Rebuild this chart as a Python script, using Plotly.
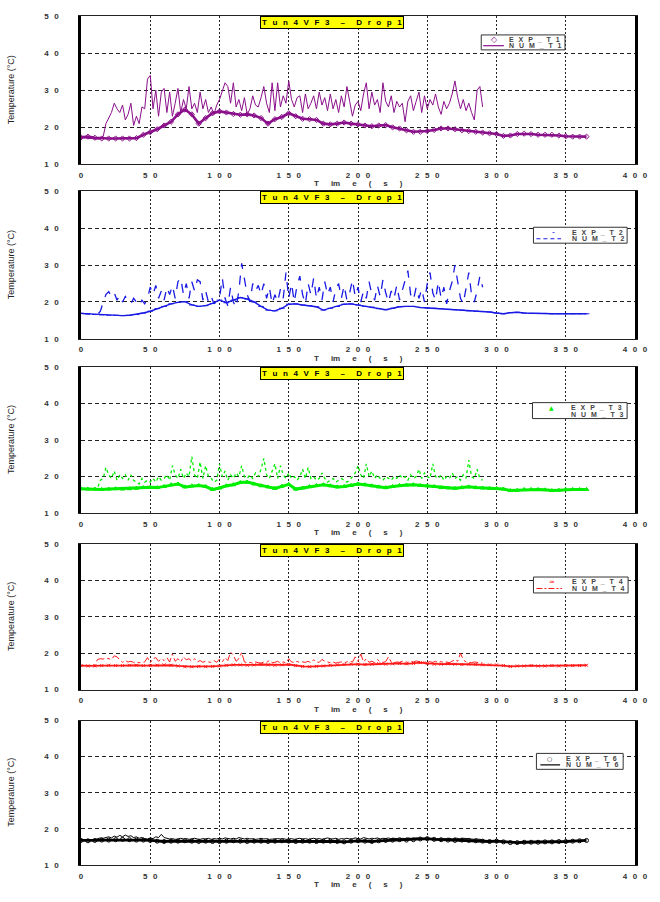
import plotly.graph_objects as go

# ---------------- data ----------------
time_num = list(range(0, 292, 2))   # 0..290 s, step 2
time_exp = list(range(0, 370, 5))   # 0..365 s, step 5

num_t1 = [17.0, 17.2, 17.1, 17.0, 16.9, 16.9, 16.8, 16.9, 17.5, 21.0,
          22.5, 24.0, 26.5, 25.0, 24.0, 26.0, 22.0, 23.5, 26.5, 20.5,
          23.0, 21.0, 25.5, 25.0, 33.0, 34.0, 25.0, 30.0, 23.0, 29.5,
          30.5, 24.0, 29.5, 23.0, 26.5, 30.5, 24.0, 27.5, 25.0, 31.0,
          25.0, 26.5, 24.0, 29.5, 25.0, 27.5, 24.0, 25.5, 23.5, 26.0,
          27.5, 30.0, 32.0, 31.0, 26.5, 32.0, 25.5, 27.5, 24.5, 28.0,
          23.5, 25.0, 28.5, 26.0, 25.5, 28.0, 31.0, 26.5, 24.0, 32.0,
          24.5, 32.0, 25.5, 28.5, 26.5, 32.5, 27.5, 25.5, 28.0, 28.5,
          24.0, 29.0, 25.0, 26.5, 28.5, 25.0, 29.5, 26.0, 28.0, 24.5,
          29.0, 25.0, 27.5, 24.0, 28.5, 25.5, 31.0, 27.0, 23.0, 26.0,
          27.0, 24.5, 29.0, 32.0, 25.0, 29.5, 26.0, 27.5, 24.0, 32.0,
          27.0, 25.5, 28.5, 24.0, 27.0, 25.5, 26.5, 21.5, 27.0, 28.5,
          24.5, 27.0, 29.5, 24.0, 28.5, 25.0, 27.5, 26.0, 29.0, 25.5,
          23.5, 27.0, 25.0, 26.5, 29.0, 32.5, 28.0, 25.0, 27.5, 24.5,
          26.5, 24.0, 22.0, 30.0, 31.0, 25.5]
exp_t1 = [17.3, 17.5, 17.2, 17.0, 17.0, 17.0, 17.0, 17.0, 17.1, 18.0,
          18.7, 19.5, 20.5, 21.5, 23.5, 24.8, 23.5, 21.0, 22.5, 23.8,
          24.3, 24.0, 23.6, 23.4, 23.5, 23.2, 22.5, 21.0, 22.2, 22.8,
          23.8, 23.0, 22.3, 22.2, 22.0, 21.0, 20.8, 21.0, 21.3, 21.0,
          20.8, 20.5, 20.3, 20.5, 20.6, 20.0, 19.7, 19.2, 18.8, 18.8,
          19.0, 19.3, 19.7, 19.7, 19.5, 19.2, 19.0, 18.8, 18.6, 18.4,
          18.2, 17.7, 17.8, 18.2, 18.3, 18.2, 18.0, 18.0, 18.0, 17.8,
          17.6, 17.5, 17.5, 17.5]

num_t2 = [16.9, 16.8, 16.8, 16.7, 16.7, 16.6, 16.6, 17.5, 20.0, 22.0,
          22.8, 21.5, 22.5, 20.5, 21.8, 20.0, 21.5, 20.5, 19.5, 21.0,
          20.0, 19.0, 20.5, 19.5, 21.0, 24.0, 22.0, 24.5, 21.0, 23.0,
          20.5, 24.0, 22.0, 24.5, 21.0, 25.5, 26.5, 22.0, 25.0, 21.0,
          25.5, 23.0, 26.0, 25.5, 20.5, 23.0, 20.0, 21.5, 19.5, 20.5,
          21.0, 26.5, 21.0, 19.0, 24.0, 20.0, 18.5, 23.0, 30.5, 26.0,
          22.0, 20.0, 25.0, 23.0, 24.5, 22.0, 25.0, 21.0, 24.0, 19.5,
          22.0, 20.0, 23.5, 21.0, 28.0, 21.0, 25.0, 20.0, 24.5, 27.0,
          22.0, 19.5, 25.0, 22.0, 26.5, 21.0, 24.0, 20.5, 25.5, 22.0,
          24.0, 20.0, 23.5, 25.0, 21.0, 24.5, 20.5, 22.5, 26.0, 21.5,
          24.0, 20.0, 23.0, 21.0, 25.5, 22.0, 20.5, 24.5, 21.5, 26.0,
          22.5, 20.0, 23.0, 21.0, 24.5, 20.5, 23.0, 26.0, 28.5, 22.0,
          20.5, 24.0, 21.0, 23.5, 20.0, 25.0, 28.0, 22.5, 20.5, 25.5,
          21.0, 24.0, 19.5, 23.0, 25.5, 30.0, 26.0, 21.0, 19.5, 24.0,
          28.0, 22.0, 20.0, 23.0, 27.0, 24.0]
exp_t2 = [16.9, 16.8, 16.6, 16.5, 16.4, 16.4, 16.3, 16.4, 16.6, 17.0,
          17.5, 18.2, 18.8, 19.5, 19.9, 20.1, 19.2, 18.8, 19.0, 19.6,
          20.5, 19.8, 20.5, 21.2, 20.8, 20.0, 18.8, 17.8, 17.6, 18.3,
          19.4, 19.5, 19.2, 19.0, 18.7, 17.8, 18.3, 18.8, 19.4, 19.5,
          19.2, 18.8, 18.6, 18.2, 17.9, 18.3, 18.7, 18.8, 18.8, 18.5,
          18.4, 18.3, 18.2, 18.0, 17.9, 17.8, 17.6, 17.5, 17.4, 17.3,
          17.0, 16.8, 17.1, 17.2, 17.0, 16.9, 16.9, 16.9, 16.8, 16.8,
          16.8, 16.8, 16.8, 16.8]

num_t3 = [16.6, 16.6, 16.5, 16.5, 16.6, 16.7, 17.0, 19.0, 19.5, 22.5,
          20.5, 19.5, 21.5, 19.0, 20.5, 19.5, 20.5, 19.0, 20.5, 19.0,
          18.5, 18.0, 19.5, 18.5, 19.0, 18.5, 19.5, 18.5, 20.0, 19.0,
          19.5, 20.5, 19.0, 23.0, 20.5, 19.5, 22.0, 19.5, 21.0, 20.0,
          25.5, 20.5, 19.5, 24.0, 19.5, 23.0, 20.0, 19.5, 18.5, 19.0,
          23.5, 20.0, 21.5, 19.0, 20.5, 19.5, 21.0, 20.0, 23.0, 20.0,
          19.5, 20.5, 19.5, 21.0, 20.0, 22.0, 25.0, 20.5, 19.5, 21.5,
          23.5, 19.5, 23.0, 20.5, 19.5, 21.0, 19.5, 20.0, 19.0, 20.0,
          22.0, 19.5, 22.5, 19.5, 20.0, 19.0, 19.5, 21.0, 19.5, 18.5,
          19.0, 19.5, 18.5, 19.0, 19.5, 19.0, 18.5, 19.0, 20.0, 21.0,
          23.0, 20.5, 19.5, 23.5, 20.0, 21.5, 19.5, 20.5, 19.5, 19.0,
          20.0, 19.5, 19.0, 20.0, 19.5, 20.5, 19.5, 20.0, 19.0, 20.5,
          19.5, 20.0, 22.0, 19.5, 21.0, 20.0, 19.5, 23.5, 20.0, 19.5,
          20.5, 19.0, 20.0, 19.5, 21.0, 19.5, 20.0, 19.0, 20.5, 19.5,
          24.5, 20.0, 19.5, 22.0, 19.5, 19.0]
exp_t3 = [16.7, 16.6, 16.6, 16.5, 16.6, 16.7, 16.6, 16.7, 16.8, 17.0,
          17.1, 17.0, 17.3, 17.8, 18.0, 17.2, 17.5, 17.6, 17.3, 16.5,
          16.9, 17.5, 17.8, 18.4, 18.5, 18.0, 17.5, 17.2, 16.8, 17.4,
          17.9, 16.6, 16.9, 17.3, 17.6, 17.8, 17.5, 17.2, 17.3, 17.6,
          18.0, 17.8, 17.5, 17.2, 17.0, 17.3, 17.6, 17.7, 17.8, 17.6,
          17.5, 17.3, 17.0, 16.9, 16.8, 17.0, 17.2, 17.0, 16.9, 16.8,
          16.8, 16.6, 16.2, 16.3, 16.5, 16.5, 16.5, 16.4, 16.2, 16.3,
          16.5, 16.5, 16.5, 16.5]

num_t4 = [16.6, 16.6, 16.5, 16.6, 16.6, 16.8, 18.3, 18.5, 18.4, 18.7,
          18.5, 18.3, 19.3, 19.0, 18.2, 17.5, 18.0, 17.6, 17.8, 17.5,
          17.6, 17.4, 17.5, 17.6, 18.8, 17.4, 18.5, 18.8, 17.8, 18.5,
          18.0, 18.8, 17.6, 19.8, 17.8, 18.5, 17.6, 19.0, 18.2, 18.5,
          17.8, 18.5, 17.6, 18.0, 17.5, 17.8, 17.6, 17.5, 18.0, 17.5,
          18.4, 17.6, 18.8, 18.0, 20.3, 19.5, 17.8, 18.5, 20.2, 17.6,
          17.4, 17.5, 17.3, 17.6, 17.4, 17.3, 17.6, 17.5, 18.0, 17.4,
          17.5, 17.8, 17.3, 17.6, 17.4, 18.5, 17.6, 17.5, 17.8, 17.4,
          17.6, 17.5, 17.8, 17.4, 18.2, 17.6, 17.5, 18.3, 17.8, 17.5,
          17.4, 17.6, 17.3, 17.5, 17.6, 17.4, 17.5, 17.8, 17.6, 19.0,
          17.8, 19.8, 17.6, 18.5, 17.5, 17.8, 17.4, 18.3, 17.6, 17.5,
          17.7, 19.0, 17.6, 17.4, 17.6, 17.5, 17.8, 17.6, 17.5, 17.8,
          17.6, 17.9, 17.7, 17.8, 17.5, 17.8, 17.6, 17.5, 17.8, 17.4,
          17.7, 17.5, 17.6, 17.4, 17.8, 18.3, 17.8, 20.0, 18.2, 17.6,
          17.5, 17.4, 17.6, 17.5, 17.4, 17.3]
exp_t4 = [16.6, 16.5, 16.5, 16.6, 16.7, 16.6, 16.6, 16.7, 16.7, 16.6,
          16.6, 16.7, 16.8, 16.7, 16.5, 16.3, 16.3, 16.4, 16.3, 16.4,
          16.5, 16.7, 16.8, 16.8, 16.7, 16.8, 16.9, 16.8, 16.7, 16.8,
          16.9, 16.6, 16.4, 16.3, 16.4, 16.5, 16.7, 16.8, 16.9, 17.0,
          17.0, 16.9, 17.0, 17.1, 17.0, 17.1, 17.2, 17.1, 17.2, 17.4,
          17.2, 17.0, 17.0, 17.1, 17.0, 16.9, 17.0, 16.9, 16.8, 16.8,
          16.8, 16.6, 16.4, 16.5, 16.5, 16.6, 16.5, 16.5, 16.6, 16.5,
          16.6, 16.6, 16.6, 16.7]

num_t6 = [16.8, 16.9, 16.8, 16.9, 16.8, 17.0, 17.3, 17.5, 17.4, 17.6,
          17.8, 17.5, 18.0, 17.7, 18.2, 17.8, 18.3, 17.9, 18.1, 17.6,
          17.8, 17.4, 17.6, 17.3, 17.2, 17.5, 17.3, 17.8, 17.6, 18.5,
          17.6, 17.4, 17.2, 17.3, 17.1, 17.2, 17.4, 17.2, 17.3, 17.1,
          17.2, 17.4, 17.2, 17.1, 17.3, 17.2, 17.4, 17.1, 17.3, 17.2,
          17.4, 17.2, 17.5, 17.3, 17.2, 17.4, 17.2, 17.6, 17.3, 17.2,
          17.4, 17.2, 17.3, 17.1, 17.2, 17.4, 17.2, 17.3, 17.1, 17.2,
          17.4, 17.3, 17.2, 17.3, 17.1, 17.2, 17.3, 17.1, 17.2, 17.4,
          17.2, 17.3, 17.1, 17.2, 17.4, 17.2, 17.3, 17.1, 17.2, 17.5,
          17.3, 17.2, 17.4, 17.1, 17.3, 17.2, 17.4, 17.2, 17.3, 17.5,
          17.3, 17.2, 17.6, 17.3, 17.2, 17.4, 17.3, 17.5, 17.2, 17.4,
          17.3, 17.5, 17.2, 17.4, 17.3, 17.2, 17.4, 17.3, 17.5, 17.4,
          17.3, 17.5, 17.4, 17.3, 17.4, 17.3, 17.2, 17.4, 17.2, 17.3,
          17.1, 17.3, 17.2, 17.4, 17.2, 17.5, 17.3, 17.2, 17.4, 17.3,
          17.2, 17.3, 17.1, 17.2, 17.1, 17.0]
exp_t6 = [16.8, 16.7, 16.8, 16.9, 16.9, 17.0, 17.1, 17.0, 16.9, 16.9,
          16.8, 16.6, 16.5, 16.6, 16.6, 16.7, 16.6, 16.5, 16.6, 16.5,
          16.5, 16.6, 16.7, 16.6, 16.5, 16.6, 16.6, 16.5, 16.6, 16.7,
          16.6, 16.5, 16.6, 16.6, 16.5, 16.6, 16.6, 16.5, 16.4, 16.6,
          16.7, 16.6, 16.5, 16.7, 16.8, 16.9, 17.0, 16.9, 17.0, 17.2,
          17.3, 17.1, 17.0, 16.9, 16.8, 16.9, 16.8, 16.7, 16.6, 16.5,
          16.6, 16.4, 16.2, 16.2, 16.3, 16.3, 16.3, 16.4, 16.4, 16.5,
          16.5, 16.6, 16.7, 16.8]

x_ticks = [0, 50, 100, 150, 200, 250, 300, 350, 400]
x_labels = ["0", "5 0", "1 0 0", "1 5 0", "2 0 0", "2 5 0", "3 0 0", "3 5 0", "4 0 0"]
y_ticks = [10, 20, 30, 40, 50]
y_labels = ["1 0", "2 0", "3 0", "4 0", "5 0"]

panel_title = "T u n 4 V F 3  –  D r o p 1"
x_title = "T im e ( s )"
y_title = "Temperature (°C)"

exp_names = ["E X P _ T 1", "E X P _ T 2", "E X P _ T 3", "E X P _ T 4", "E X P _ T 6"]
num_names = ["N U M _ T 1", "N U M _ T 2", "N U M _ T 3", "N U M _ T 4", "N U M _ T 6"]
num_series = [num_t1, num_t2, num_t3, num_t4, num_t6]
exp_series = [exp_t1, exp_t2, exp_t3, exp_t4, exp_t6]

# ---------------- styles ----------------
colors = ["#8a0f8a", "#1a1ae6", "#00ee00", "#ff1a1a", "#000000"]
exp_symbols = ["diamond-open", "line-ew-open", "triangle-up", "x-thin-open", "circle-open"]
exp_line_w = [2.6, 1.4, 3.0, 1.8, 2.8]
exp_marker_size = [4, 4, 4, 3, 4]
num_dash = ["solid", "dash", "dot", "dashdot", "solid"]
num_line_w = [1.0, 1.3, 1.3, 1.0, 1.0]
legend_marker_char = ["◇", "‑", "▲", "≈", "○"]
legend_marker_size = [8, 8, 6, 7, 6]
legend_line_dash = ["solid", "4px,3px", None, "6px,2px,2px,2px", "solid"]

GAP = "\u2002\u2009"          # visual letter spacing of the original
GAP_WIDE = "\u2003\u2002"


def spaced(s, gap=GAP):
    return s.replace(" ", gap)


W, H = 660, 902
L, R, T, B = 81, 643, 13, 865
panels_px = [(13, 162), (189, 337), (365, 512), (543, 689), (720, 865)]
# legend box: x0, x1, y0, y1, marker x, text x, line x0, line x1
legend_px = [
    (487, 572, 32, 47, 500, 513, 489, 510),
    (540, 635, 225, 241, 560, 577, 543, 568),
    (539, 635, 401, 417, 558, 576, 543, 568),
    (540, 636, 576, 592, 559, 577, 543, 569),
    (543, 631, 753, 769, 556, 571, 547, 567),
]


def fy(px):
    return (B - px) / (B - T)


def fx(px):
    return (px - L) / (R - L)


fig = go.Figure()
FONT = "Liberation Sans, Arial"
tick_font = dict(family=FONT, size=8, color="#333333", weight="bold")

for i in range(5):
    k = "" if i == 0 else str(i + 1)
    xa, ya = "x" + k, "y" + k
    c = colors[i]
    # EXP (dense markers)
    fig.add_trace(go.Scatter(
        x=time_exp, y=exp_series[i], xaxis=xa, yaxis=ya, mode="lines+markers",
        line=dict(color=c, width=exp_line_w[i]),
        marker=dict(symbol=exp_symbols[i], size=exp_marker_size[i], color=c,
                    line=dict(color=c, width=1)),
        showlegend=False, hoverinfo="skip"))
    # NUM (line)
    fig.add_trace(go.Scatter(
        x=time_num, y=num_series[i], xaxis=xa, yaxis=ya, mode="lines",
        line=dict(color=c, width=num_line_w[i], dash=num_dash[i]),
        showlegend=False, hoverinfo="skip"))

    top, bot = panels_px[i]
    dom = [fy(bot), fy(top)]
    fig.layout["xaxis" + k] = dict(
        domain=[0, 1], anchor=ya, range=[0, 400], tickvals=x_ticks,
        ticktext=[spaced(t) for t in x_labels],
        showgrid=True, gridcolor="#222222", gridwidth=1, griddash="2px,2px",
        showline=True, linecolor="#222222", linewidth=1, mirror=True,
        zeroline=False, ticks="", tickfont=tick_font, ticklabelstandoff=3,
        fixedrange=True)
    fig.layout["yaxis" + k] = dict(
        domain=dom, anchor=xa, range=[10, 50], tickvals=y_ticks,
        ticktext=[spaced(t) for t in y_labels],
        showgrid=True, gridcolor="#222222", gridwidth=1, griddash="4px,3px",
        showline=True, linecolor="#000000", linewidth=2.5, mirror=True,
        zeroline=False, ticks="", tickfont=tick_font, ticklabelstandoff=18,
        fixedrange=True)

    # legend box (drawn manually, compact like the original)
    bx0, bx1, by0, by1, mx, tx, lx0, lx1 = legend_px[i]
    row1 = by0 + (by1 - by0) * 0.3
    row2 = by0 + (by1 - by0) * 0.72
    fig.add_shape(type="rect", xref="paper", yref="paper",
                  x0=fx(bx0), x1=fx(bx1), y0=fy(by1), y1=fy(by0),
                  line=dict(color="#333333", width=1), fillcolor="white", layer="above")
    fig.add_annotation(x=fx(mx), y=fy(row1), xref="paper", yref="paper",
                       xanchor="center", yanchor="middle", showarrow=False,
                       text=legend_marker_char[i],
                       font=dict(family="DejaVu Sans", size=legend_marker_size[i], color=c))
    if legend_line_dash[i] is not None:
        fig.add_shape(type="line", xref="paper", yref="paper",
                      x0=fx(lx0), x1=fx(lx1), y0=fy(row2), y1=fy(row2),
                      line=dict(color=c, width=1.2, dash=legend_line_dash[i]), layer="above")
    for name, ry in ((exp_names[i], row1), (num_names[i], row2)):
        fig.add_annotation(x=fx(tx), y=fy(ry), xref="paper", yref="paper",
                           xanchor="left", yanchor="middle", showarrow=False,
                           text=spaced(name),
                           font=dict(family=FONT, size=7, color="#444444", weight="bold"))

    # panel title
    fig.add_annotation(
        x=fx(336), y=fy(top), xref="paper", yref="paper", xanchor="center", yanchor="top",
        text=spaced(panel_title), showarrow=False, bgcolor="#ffff00", bordercolor="#000000",
        borderwidth=1, borderpad=1,
        font=dict(family=FONT, size=8, color="#000000", weight="bold"))
    # x title
    fig.add_annotation(
        x=0.5, y=fy(bot), xref="paper", yref="paper", xanchor="center", yanchor="top",
        yshift=-13, text=spaced(x_title, GAP_WIDE), showarrow=False,
        font=dict(family=FONT, size=8, color="#333333", weight="bold"))
    # y title
    fig.add_annotation(
        x=fx(10), y=(fy(bot) + fy(top)) / 2, xref="paper", yref="paper",
        xanchor="center", yanchor="middle", textangle=-90, text=y_title, showarrow=False,
        font=dict(family=FONT, size=9, color="#222222"))

fig.update_layout(
    width=W, height=H, margin=dict(l=L, r=W - R, t=T, b=H - B),
    paper_bgcolor="white", plot_bgcolor="white", showlegend=False)

fig.write_html("out.html")
